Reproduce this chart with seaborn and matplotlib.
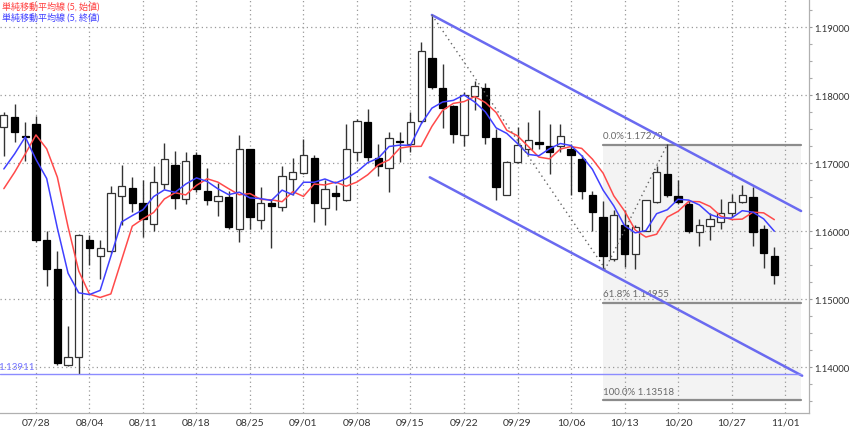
import matplotlib
matplotlib.use("Agg")
import matplotlib.pyplot as plt
import numpy as np
import pandas as pd
import seaborn as sns
from matplotlib.ticker import FixedLocator, MultipleLocator, FuncFormatter


# daily candles 07/23 .. 10/31 (business days)
dates = pd.bdate_range("2025-07-23", "2025-10-31").strftime("%m/%d").tolist()

opens = [
    1.1754, 1.1768, 1.1740, 1.1758, 1.1588, 1.1545, 1.1403, 1.1415, 1.1588, 1.1564,
    1.1571, 1.1652, 1.1664, 1.1642, 1.1611, 1.1670, 1.1698, 1.1648, 1.1712, 1.1660,
    1.1645, 1.1650, 1.1603, 1.1721, 1.1617, 1.1642, 1.1636, 1.1677, 1.1686, 1.1708,
    1.1635, 1.1657, 1.1647, 1.1717, 1.1761, 1.1708, 1.1694, 1.1733, 1.1729, 1.1762,
    1.1855, 1.1811, 1.1785, 1.1742, 1.1799, 1.1811, 1.1738, 1.1654, 1.1702, 1.1721,
    1.1732, 1.1725, 1.1726, 1.1721, 1.1707, 1.1653, 1.1622, 1.1559, 1.1610, 1.1567,
    1.1601, 1.1643, 1.1685, 1.1652, 1.1640, 1.1599, 1.1608, 1.1614, 1.1627, 1.1643,
    1.1650, 1.1603, 1.1564,
]
highs = [
    1.1776, 1.1788, 1.1761, 1.1770, 1.1600, 1.1572, 1.1461, 1.1596, 1.1595, 1.1588,
    1.1667, 1.1698, 1.1680, 1.1676, 1.1696, 1.1730, 1.1719, 1.1717, 1.1717, 1.1693,
    1.1672, 1.1660, 1.1742, 1.1722, 1.1665, 1.1648, 1.1697, 1.1708, 1.1736, 1.1712,
    1.1675, 1.1668, 1.1758, 1.1765, 1.1780, 1.1729, 1.1746, 1.1747, 1.1775, 1.1878,
    1.1918, 1.1846, 1.1786, 1.1805, 1.1822, 1.1818, 1.1751, 1.1703, 1.1753, 1.1761,
    1.1779, 1.1758, 1.1758, 1.1729, 1.1712, 1.1660, 1.1645, 1.1632, 1.1632, 1.1609,
    1.1647, 1.1696, 1.1728, 1.1675, 1.1645, 1.1618, 1.1627, 1.1648, 1.1655, 1.1668,
    1.1665, 1.1610, 1.1577,
]
lows = [
    1.1711, 1.1731, 1.1704, 1.1585, 1.1520, 1.1403, 1.1402, 1.1391, 1.1551, 1.1530,
    1.1569, 1.1609, 1.1628, 1.1592, 1.1600, 1.1662, 1.1633, 1.1640, 1.1658, 1.1639,
    1.1623, 1.1603, 1.1585, 1.1603, 1.1603, 1.1575, 1.1630, 1.1653, 1.1684, 1.1614,
    1.1609, 1.1631, 1.1645, 1.1704, 1.1704, 1.1682, 1.1658, 1.1702, 1.1717, 1.1760,
    1.1810, 1.1752, 1.1730, 1.1726, 1.1778, 1.1729, 1.1647, 1.1654, 1.1700, 1.1712,
    1.1722, 1.1684, 1.1717, 1.1653, 1.1648, 1.1600, 1.1545, 1.1557, 1.1548, 1.1545,
    1.1600, 1.1642, 1.1650, 1.1640, 1.1598, 1.1578, 1.1587, 1.1603, 1.1621, 1.1642,
    1.1578, 1.1547, 1.1523,
]
closes = [
    1.1771, 1.1747, 1.1739, 1.1588, 1.1545, 1.1406, 1.1415, 1.1595, 1.1575, 1.1576,
    1.1657, 1.1667, 1.1642, 1.1618, 1.1673, 1.1706, 1.1649, 1.1703, 1.1663, 1.1647,
    1.1652, 1.1606, 1.1721, 1.1621, 1.1642, 1.1638, 1.1682, 1.1687, 1.1713, 1.1642,
    1.1662, 1.1652, 1.1721, 1.1762, 1.1709, 1.1696, 1.1737, 1.1731, 1.1761, 1.1866,
    1.1812, 1.1782, 1.1743, 1.1801, 1.1814, 1.1739, 1.1665, 1.1702, 1.1727, 1.1734,
    1.1729, 1.1717, 1.1740, 1.1712, 1.1659, 1.1629, 1.1564, 1.1624, 1.1567, 1.1606,
    1.1646, 1.1688, 1.1653, 1.1644, 1.1600, 1.1610, 1.1618, 1.1627, 1.1644, 1.1654,
    1.1599, 1.1569, 1.1536,
]

# 5-day SMA of open (red) and close (blue), as shown on the chart
ma_open = [
    1.1663, 1.1687, 1.1714, 1.1742, 1.17216, 1.16798, 1.16068, 1.15418, 1.15078, 1.1503,
    1.15082, 1.1558, 1.16078, 1.16186, 1.1628, 1.16478, 1.1657, 1.16538, 1.16678, 1.16776,
    1.16726, 1.1663, 1.1654, 1.16558, 1.16472, 1.16466, 1.16438, 1.16586, 1.16516, 1.16698,
    1.16684, 1.16726, 1.16666, 1.16728, 1.16834, 1.1698, 1.17054, 1.17226, 1.1725, 1.17252,
    1.17546, 1.1778, 1.17884, 1.1791, 1.17984, 1.17896, 1.1775, 1.17488, 1.17408, 1.17252,
    1.17094, 1.17068, 1.17212, 1.1725, 1.17222, 1.17064, 1.16858, 1.16524, 1.16302, 1.16022,
    1.15918, 1.1596, 1.16212, 1.16296, 1.16442, 1.16438, 1.16368, 1.16226, 1.16176, 1.16182,
    1.16284, 1.16274, 1.16174,
]
ma_close = [
    1.1692, 1.1714, 1.1739, 1.1706, 1.1678, 1.1605, 1.15386, 1.15098, 1.15072, 1.15134,
    1.15636, 1.1614, 1.16234, 1.1632, 1.16514, 1.16612, 1.16576, 1.16698, 1.16788, 1.16736,
    1.16628, 1.16542, 1.16578, 1.16494, 1.16484, 1.16456, 1.16608, 1.1654, 1.16724, 1.16724,
    1.16772, 1.16712, 1.1678, 1.16878, 1.17012, 1.1708, 1.1725, 1.1727, 1.17268, 1.17582,
    1.17814, 1.17904, 1.17928, 1.18008, 1.17904, 1.17758, 1.17524, 1.17442, 1.17294, 1.17134,
    1.17114, 1.17218, 1.17294, 1.17264, 1.17114, 1.16914, 1.16608, 1.16376, 1.16086, 1.1598,
    1.16014, 1.16262, 1.1632, 1.16474, 1.16462, 1.1639, 1.1625, 1.16198, 1.16198, 1.16306,
    1.16284, 1.16186, 1.16004,
]

tick_labels = ["07/28", "08/04", "08/11", "08/18", "08/25", "09/01", "09/08", "09/15",
               "09/22", "09/29", "10/06", "10/13", "10/20", "10/27", "11/01"]

# drawing objects (bar index, price)
channel_upper_x = [40.0, 74.5]
channel_upper_y = [1.19184, 1.16301]
channel_lower_x = [39.8, 74.6]
channel_lower_y = [1.16797, 1.13879]
zigzag_x = [40.0, 56.2, 62.0]
zigzag_y = [1.19184, 1.15449, 1.17279]
fib_x = [56.0, 74.5]
fib_pct = ["0.0%", "61.8%", "100.0%"]
fib_prices = [1.17279, 1.14955, 1.13518]
support_price = 1.13911

sns.set_theme(style="white")
plt.rcParams["font.family"] = ["Lato", "Noto Sans CJK JP", "DejaVu Sans"]

df = pd.DataFrame({"date": dates, "open": opens, "high": highs, "low": lows,
                   "close": closes, "ma_open": ma_open, "ma_close": ma_close})
df["pos"] = np.arange(len(df))

fig = plt.figure(figsize=(8.5, 4.31), dpi=100)
ax = fig.add_axes([0.0, 17 / 431, 809 / 850, 414 / 431])
ax.set_xlim(-0.36, 75.24)
ax.set_ylim(1.19419 - 414 / 6800, 1.19419)

# fibonacci box
ax.fill_between(fib_x, fib_prices[2], fib_prices[0], color="#f3f3f3", lw=0, zorder=0)
for pct, price in zip(fib_pct, fib_prices):
    ax.plot(fib_x, [price, price], color="#8c8c8c", lw=1.6, zorder=1)
    ax.annotate(f"{pct} {price:.5f}", (fib_x[0], price), xytext=(0, 3),
                textcoords="offset points", fontsize=7, color="#6a6a6a", va="bottom")

# candles
up = df[df["close"] >= df["open"]]
dn = df[df["close"] < df["open"]]
ax.vlines(df["pos"], df["low"], df["high"], color="#333333", lw=1, zorder=3)
ax.bar(up["pos"], np.maximum(up["close"] - up["open"], 0.00008), bottom=up["open"],
       width=0.68, color="white", edgecolor="#333333", lw=0.9, zorder=4)
ax.bar(dn["pos"], np.maximum(dn["open"] - dn["close"], 0.00008), bottom=dn["close"],
       width=0.68, color="black", edgecolor="black", lw=0.9, zorder=4)

# moving averages
sns.lineplot(data=df, x="pos", y="ma_open", color="#ff4a4a", lw=1.1, ax=ax, zorder=5)
sns.lineplot(data=df, x="pos", y="ma_close", color="#4040ff", lw=1.1, ax=ax, zorder=5)

# trend lines
ax.plot(channel_upper_x, channel_upper_y, color="#6a6af0", lw=1.8, zorder=6)
ax.plot(channel_lower_x, channel_lower_y, color="#6a6af0", lw=1.8, zorder=6)
ax.plot(zigzag_x, zigzag_y, color="#666666", lw=1, linestyle=(0, (1, 2.5)), zorder=6)
ax.plot([-0.36, fib_x[1]], [support_price, support_price], color="#8c8cff", lw=1, zorder=6)
ax.annotate(f"{support_price:.5f}", (-0.36, support_price), xytext=(-1, 2),
            textcoords="offset points", fontsize=7, color="#7373ff", va="bottom")

# axes styling
start = dates.index("07/28")
ax.xaxis.set_major_locator(FixedLocator([start + 5 * k for k in range(len(tick_labels))]))
ax.set_xticklabels(tick_labels)
ax.xaxis.set_minor_locator(MultipleLocator(1))
ax.yaxis.tick_right()
ax.yaxis.set_major_locator(MultipleLocator(0.01))
ax.yaxis.set_minor_locator(MultipleLocator(0.0025))
ax.yaxis.set_major_formatter(FuncFormatter(lambda v, _: f"{v:.5f}"))
ax.tick_params(axis="both", which="major", colors="#999999",
               labelcolor="#333333", length=2.5, width=0.8, pad=1)
ax.tick_params(axis="x", which="major", labelsize=7.5)
ax.tick_params(axis="y", which="major", labelsize=6.8, pad=1.5)
ax.tick_params(axis="both", which="minor", colors="#aaaaaa", length=2, width=0.8)
ax.set_xlabel("")
ax.set_ylabel("")
ax.grid(True, which="major", color="#999999", linestyle=(0, (1, 2.5)), lw=0.9)
for side in ["left", "top"]:
    ax.spines[side].set_visible(False)
for side in ["right", "bottom"]:
    ax.spines[side].set_color("#b0b0b0")
    ax.spines[side].set_linewidth(0.9)

fig.text(2 / 850, 1 - 6.5 / 431, "単純移動平均線 (5, 始値)", fontsize=6.5,
         color="#ff3d3d", va="center", ha="left")
fig.text(2 / 850, 1 - 18 / 431, "単純移動平均線 (5, 終値)", fontsize=6.5,
         color="#3d3dff", va="center", ha="left")

fig.savefig("out.png", dpi=100)
